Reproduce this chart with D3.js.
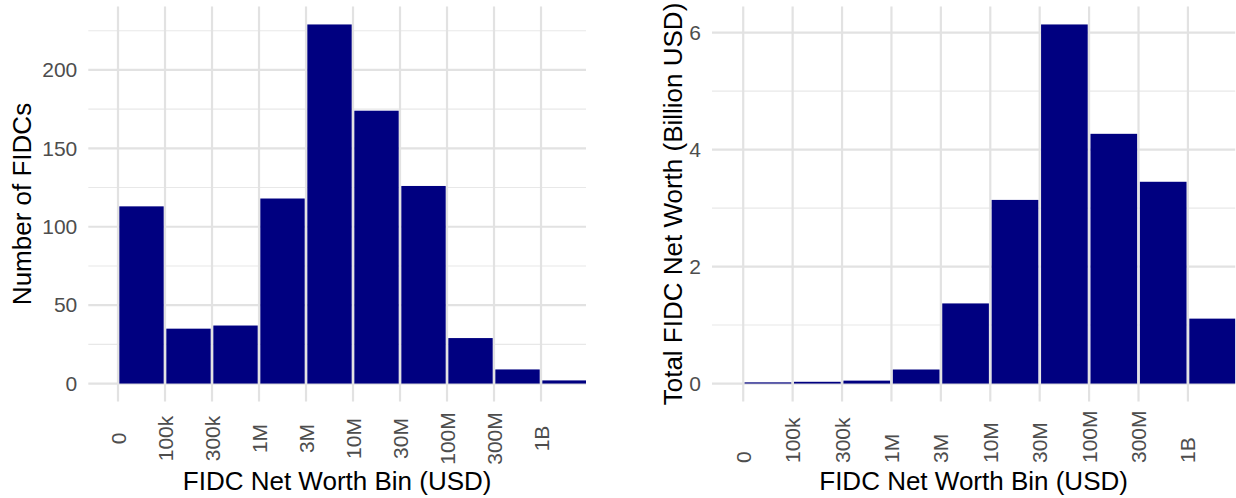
<!DOCTYPE html>
<html>
<head>
<meta charset="utf-8">
<script src="https://cdn.jsdelivr.net/npm/d3@7"></script>
<style>
	body { margin: 0; background: #ffffff; }
	text { font-family: "Liberation Sans", Arial, sans-serif; }
</style>
</head>
<body>
<div id="chart"></div>
<script>

	// bin edges (lower bound of each bin)
	var binLabels = ["0","100k","300k","1M","3M","10M","30M","100M","300M","1B"];

	// number of funds per bin
	var fundCounts = [113, 35, 37, 118, 229, 174, 126, 29, 9, 2];

	// total net worth per bin, billion USD
	var netWorth = [0.02, 0.03, 0.05, 0.24, 1.37, 3.14, 6.14, 4.27, 3.45, 1.11];

	var countTicks = [0, 50, 100, 150, 200];
	var countMinor = [25, 75, 125, 175, 225];
	var worthTicks = [0, 2, 4, 6];
	var worthMinor = [1, 3, 5];

	var width = 1236, height = 498;

	var svg = d3.select('#chart').append('svg')
		.attr('width', width)
		.attr('height', height);

	function drawPanel(p){

		var g = svg.append('g');

		var x = d3.scaleLinear()
			.domain([-0.632, 9.957])
			.range([p.left, p.right]);

		var maxV = d3.max(p.values);
		var y = d3.scaleLinear()
			.domain([-0.05 * maxV, 1.05 * maxV])
			.range([p.bottom, p.top]);

		g.append('clipPath')
			.attr('id', p.id)
			.append('rect')
			.attr('x', p.left)
			.attr('y', p.top)
			.attr('width', p.right - p.left)
			.attr('height', p.bottom - p.top);

		// grid
		g.selectAll('.minor')
			.data(p.minor)
			.enter()
			.append('line')
			.attr('x1', p.left).attr('x2', p.right)
			.attr('y1', function(d){ return y(d); })
			.attr('y2', function(d){ return y(d); })
			.attr('stroke', '#e8e8e8')
			.attr('stroke-width', 1.1);

		g.selectAll('.major')
			.data(p.ticks)
			.enter()
			.append('line')
			.attr('x1', p.left).attr('x2', p.right)
			.attr('y1', function(d){ return y(d); })
			.attr('y2', function(d){ return y(d); })
			.attr('stroke', '#e2e2e2')
			.attr('stroke-width', 2.2);

		g.selectAll('.vline')
			.data(binLabels)
			.enter()
			.append('line')
			.attr('x1', function(d, i){ return x(i); })
			.attr('x2', function(d, i){ return x(i); })
			.attr('y1', p.top).attr('y2', p.bottom)
			.attr('stroke', '#e2e2e2')
			.attr('stroke-width', 2.2);

		// bars
		g.append('g')
			.attr('clip-path', 'url(#' + p.id + ')')
			.selectAll('rect')
			.data(p.values)
			.enter()
			.append('rect')
			.attr('x', function(d, i){ return x(i + 0.028); })
			.attr('width', function(d, i){ return x(i + 0.972) - x(i + 0.028); })
			.attr('y', function(d){ return y(d); })
			.attr('height', function(d){ return y(0) - y(d); })
			.attr('fill', '#000080');

		// y tick labels
		g.selectAll('.ylab')
			.data(p.ticks)
			.enter()
			.append('text')
			.attr('x', p.left - 11)
			.attr('y', function(d){ return y(d); })
			.attr('dy', '0.35em')
			.attr('text-anchor', 'end')
			.attr('fill', '#4d4d4d')
			.style('font-size', '21px')
			.text(function(d){ return d; });

		// x tick labels, rotated
		g.selectAll('.xlab')
			.data(binLabels)
			.enter()
			.append('text')
			.attr('transform', function(d, i){
				return 'translate(' + x(i) + ',' + p.labelY + ') rotate(-90)';
			})
			.attr('dy', '0.36em')
			.attr('text-anchor', p.labelAnchor)
			.attr('fill', '#4d4d4d')
			.style('font-size', '21px')
			.text(function(d){ return d; });

		// axis titles
		g.append('text')
			.attr('x', (p.left + p.right) / 2)
			.attr('y', 490)
			.attr('text-anchor', 'middle')
			.attr('fill', '#000000')
			.style('font-size', '26px')
			.text('FIDC Net Worth Bin (USD)');

		g.append('text')
			.attr('transform', 'translate(' + p.titleX + ',' + ((p.top + p.bottom) / 2) + ') rotate(-90)')
			.attr('text-anchor', 'middle')
			.attr('fill', '#000000')
			.style('font-size', '26px')
			.text(p.yTitle);
	}

	drawPanel({
		id: 'clipLeft',
		left: 88.3, right: 586, top: 6.5, bottom: 401.5,
		values: fundCounts,
		ticks: countTicks, minor: countMinor,
		yTitle: 'Number of FIDCs',
		titleX: 31,
		labelAnchor: 'middle', labelY: 438.5
	});

	drawPanel({
		id: 'clipRight',
		left: 712, right: 1235.2, top: 6.5, bottom: 401.5,
		values: netWorth,
		ticks: worthTicks, minor: worthMinor,
		yTitle: 'Total FIDC Net Worth (Billion USD)',
		titleX: 681.5,
		labelAnchor: 'start', labelY: 463
	});

</script>
</body>
</html>
